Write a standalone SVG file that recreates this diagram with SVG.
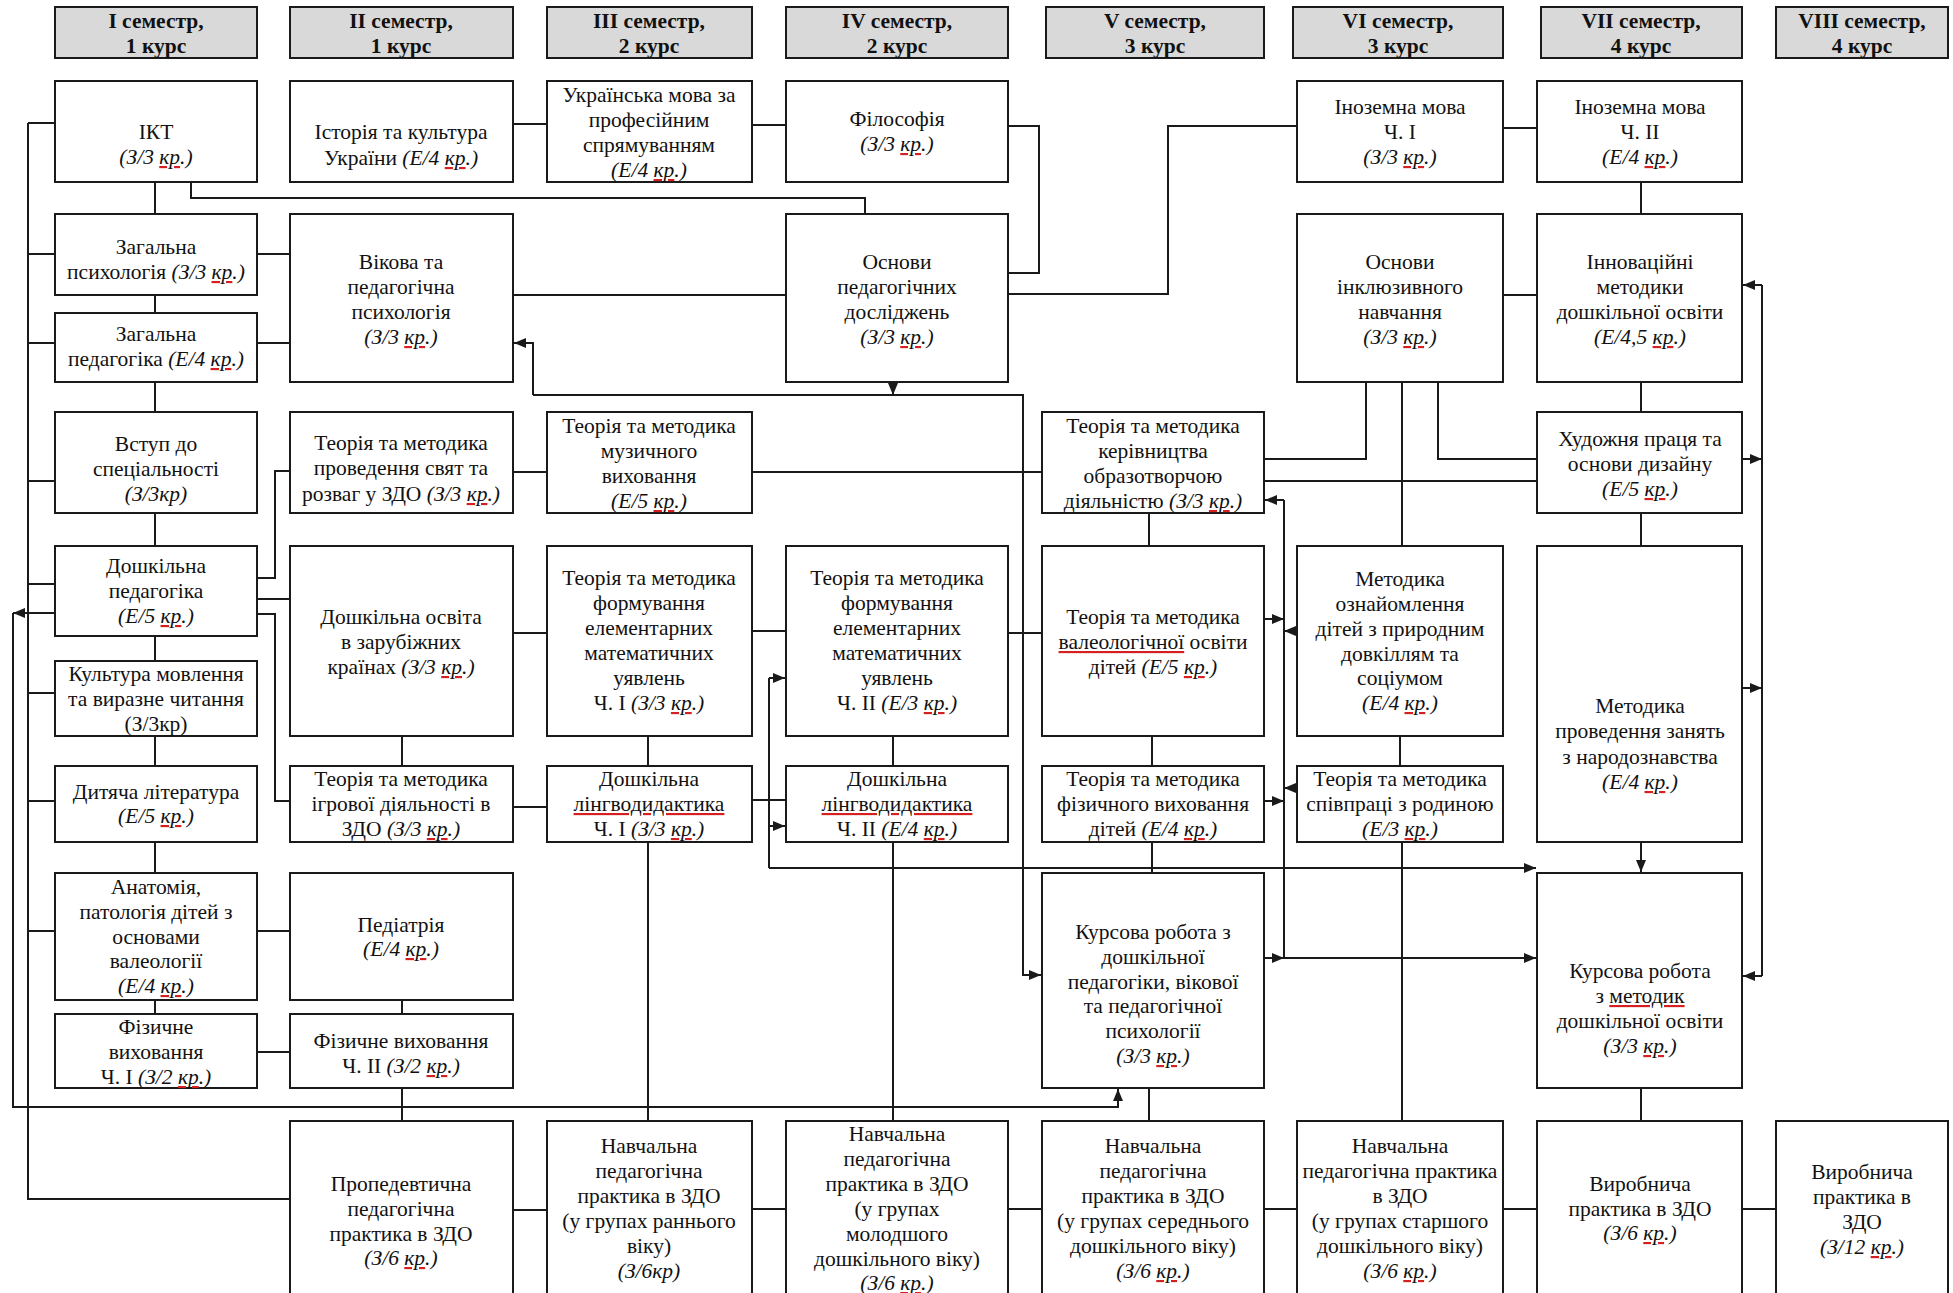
<svg xmlns="http://www.w3.org/2000/svg" width="1953" height="1293" viewBox="0 0 1953 1293">
<style>
.box{fill:#fff;stroke:#1a1a1a;stroke-width:2}
.hdr{fill:#d9d9d9;stroke:#1a1a1a;stroke-width:2}
text{font-family:"Liberation Serif","Times New Roman",serif;font-size:21.5px;fill:#111;text-anchor:middle}
.h{font-weight:bold}
.i{font-style:italic}
.c{fill:none;stroke:#1a1a1a;stroke-width:2}
.a{marker-end:url(#arr)}
.sq{fill:#d42020;text-decoration:underline wavy}
.k{fill:#111}
</style>
<defs>
<marker id="arr" markerUnits="userSpaceOnUse" markerWidth="13" markerHeight="11" refX="12" refY="5" orient="auto"><path d="M0,0 L12,5 L0,10 z" fill="#1a1a1a"/></marker>
</defs>
<rect width="1953" height="1293" fill="#fff"/>

<g id="headers">
<g id="h1"><rect class="hdr" x="55" y="7" width="202" height="51"/><text class="h"><tspan x="156" y="28">I семестр,</tspan><tspan x="156" y="53">1 курс</tspan></text></g>
<g id="h2"><rect class="hdr" x="290" y="7" width="223" height="51"/><text class="h"><tspan x="401" y="28">II семестр,</tspan><tspan x="401" y="53">1 курс</tspan></text></g>
<g id="h3"><rect class="hdr" x="547" y="7" width="205" height="51"/><text class="h"><tspan x="649" y="28">III семестр,</tspan><tspan x="649" y="53">2 курс</tspan></text></g>
<g id="h4"><rect class="hdr" x="786" y="7" width="222" height="51"/><text class="h"><tspan x="897" y="28">IV семестр,</tspan><tspan x="897" y="53">2 курс</tspan></text></g>
<g id="h5"><rect class="hdr" x="1046" y="7" width="218" height="51"/><text class="h"><tspan x="1155" y="28">V семестр,</tspan><tspan x="1155" y="53">3 курс</tspan></text></g>
<g id="h6"><rect class="hdr" x="1293" y="7" width="210" height="51"/><text class="h"><tspan x="1398" y="28">VI семестр,</tspan><tspan x="1398" y="53">3 курс</tspan></text></g>
<g id="h7"><rect class="hdr" x="1541" y="7" width="201" height="51"/><text class="h"><tspan x="1641" y="28">VII семестр,</tspan><tspan x="1641" y="53">4 курс</tspan></text></g>
<g id="h8"><rect class="hdr" x="1776" y="7" width="172" height="51"/><text class="h"><tspan x="1862" y="28">VIII семестр,</tspan><tspan x="1862" y="53">4 курс</tspan></text></g>
</g>

<g id="connectors">
<path class="c" d="M28,123 H55 M28,123 V1199 H290 M28,254 H55 M28,343 H55 M28,481 H55 M28,584 H55 M28,693 H55 M28,801 H55 M28,931 H55"/>
<path class="c" d="M155,182 V214 M155,295 V313 M155,382 V412 M155,513 V546 M155,636 V661 M155,736 V766 M155,842 V873 M155,1000 V1014"/>
<path class="c" d="M191,182 V198 H865 V214"/>
<path class="c" d="M257,254 H290 M257,343 H290 M257,578 H275 V471 H290 M257,599 H290 M257,614 H275 V801 H290 M257,931 H290 M257,1052 H290"/>
<path class="c" d="M402,1000 V1014 M402,736 V766 M402,1088 V1121"/>
<path class="c" d="M513,124 H547 M752,125 H786 M513,295 H786"/>
<path class="c a" d="M533,395 V343 H514"/>
<path class="c a" d="M533,395 H1023 V975 H1041"/>
<path class="c a" d="M893,382 V395"/>
<path class="c" d="M1008,126 H1039 V273 H1008"/>
<path class="c" d="M1008,294 H1168 V126 H1297"/>
<path class="c" d="M1503,128 H1537 M1503,295 H1537 M1641,182 V214 M1641,382 V412 M1641,513 V546 M1641,1088 V1121"/>
<path class="c" d="M1762,285 V976"/>
<path class="c a" d="M1762,285 H1743"/>
<path class="c a" d="M1762,976 H1743"/>
<path class="c a" d="M1742,459 H1762"/>
<path class="c a" d="M1742,688 H1762"/>
<path class="c a" d="M1641,842 V872"/>
<path class="c" d="M1366,382 V459 H1264 M1402,382 V546 M1438,382 V459 H1537 M1264,481 H1537"/>
<path class="c" d="M513,472 H547 M752,472 H1042 M1149,513 V546"/>
<path class="c" d="M1284,500 V958"/>
<path class="c a" d="M1284,500 H1265"/>
<path class="c a" d="M1264,619 H1284"/>
<path class="c a" d="M1297,631 H1284"/>
<path class="c a" d="M1297,788 H1284"/>
<path class="c a" d="M1264,801 H1284"/>
<path class="c a" d="M1264,958 H1284"/>
<path class="c a" d="M1284,958 H1536"/>
<path class="c a" d="M769,868 H1536"/>
<path class="c" d="M769,678 V868"/>
<path class="c a" d="M769,678 H785"/>
<path class="c a" d="M769,826 H785"/>
<path class="c" d="M752,631 H786 M513,633 H547 M648,736 V766 M893,736 V766 M513,807 H547 M752,800 H786 M1008,633 H1042"/>
<path class="c" d="M1152,736 V766 M1400,736 V766 M1152,842 V873 M1402,842 V1121 M1149,1088 V1121"/>
<path class="c" d="M648,842 V1121 M893,842 V1121"/>
<path class="c" d="M513,1210 H547 M752,1209 H786 M1008,1209 H1042 M1264,1209 H1297 M1503,1209 H1537 M1742,1209 H1776"/>
<path class="c a" d="M55,613 H13"/>
<path class="c a" d="M13,613 V1107 H1118 V1089"/>
</g>

<g id="n-ikt"><rect class="box" x="55" y="81" width="202" height="101"/><text><tspan x="156" y="139">ІКТ</tspan><tspan x="156" y="164" class="i">(З/3 <tspan class="sq"><tspan class="k">кр</tspan></tspan>.)</tspan></text></g>
<g id="n-zag-psy"><rect class="box" x="55" y="214" width="202" height="81"/><text><tspan x="156" y="254">Загальна</tspan><tspan x="156" y="279">психологія <tspan class="i">(З/3 <tspan class="sq"><tspan class="k">кр</tspan></tspan>.)</tspan></tspan></text></g>
<g id="n-zag-ped"><rect class="box" x="55" y="313" width="202" height="69"/><text><tspan x="156" y="341">Загальна</tspan><tspan x="156" y="366">педагогіка <tspan class="i">(Е/4 <tspan class="sq"><tspan class="k">кр</tspan></tspan>.)</tspan></tspan></text></g>
<g id="n-vstup"><rect class="box" x="55" y="412" width="202" height="101"/><text><tspan x="156" y="451">Вступ до</tspan><tspan x="156" y="476">спеціальності</tspan><tspan x="156" y="501" class="i">(З/3кр)</tspan></text></g>
<g id="n-dosh-ped"><rect class="box" x="55" y="546" width="202" height="90"/><text><tspan x="156" y="573">Дошкільна</tspan><tspan x="156" y="598">педагогіка</tspan><tspan x="156" y="623" class="i">(Е/5 <tspan class="sq"><tspan class="k">кр</tspan></tspan>.)</tspan></text></g>
<g id="n-kultura"><rect class="box" x="55" y="661" width="202" height="75"/><text><tspan x="156" y="681">Культура мовлення</tspan><tspan x="156" y="706">та виразне читання</tspan><tspan x="156" y="731">(З/3кр)</tspan></text></g>
<g id="n-dytyacha"><rect class="box" x="55" y="766" width="202" height="76"/><text><tspan x="156" y="799">Дитяча література</tspan><tspan x="156" y="823" class="i">(Е/5 <tspan class="sq"><tspan class="k">кр</tspan></tspan>.)</tspan></text></g>
<g id="n-anatomiya"><rect class="box" x="55" y="873" width="202" height="127"/><text><tspan x="156" y="894">Анатомія,</tspan><tspan x="156" y="919">патологія дітей з</tspan><tspan x="156" y="944">основами</tspan><tspan x="156" y="968">валеології</tspan><tspan x="156" y="993" class="i">(Е/4 <tspan class="sq"><tspan class="k">кр</tspan></tspan>.)</tspan></text></g>
<g id="n-fiz1"><rect class="box" x="55" y="1014" width="202" height="74"/><text><tspan x="156" y="1034">Фізичне</tspan><tspan x="156" y="1059">виховання</tspan><tspan x="156" y="1084">Ч. I <tspan class="i">(З/2 <tspan class="sq"><tspan class="k">кр</tspan></tspan>.)</tspan></tspan></text></g>

<g id="n-istoriya"><rect class="box" x="290" y="81" width="223" height="101"/><text><tspan x="401" y="139">Історія та культура</tspan><tspan x="401" y="165">України <tspan class="i">(Е/4 <tspan class="sq"><tspan class="k">кр</tspan></tspan>.)</tspan></tspan></text></g>
<g id="n-vikova"><rect class="box" x="290" y="214" width="223" height="168"/><text><tspan x="401" y="269">Вікова та</tspan><tspan x="401" y="294">педагогічна</tspan><tspan x="401" y="319">психологія</tspan><tspan x="401" y="344" class="i">(З/3 <tspan class="sq"><tspan class="k">кр</tspan></tspan>.)</tspan></text></g>
<g id="n-svyata"><rect class="box" x="290" y="412" width="223" height="101"/><text><tspan x="401" y="450">Теорія та методика</tspan><tspan x="401" y="475">проведення свят та</tspan><tspan x="401" y="501">розваг у ЗДО <tspan class="i">(З/3 <tspan class="sq"><tspan class="k">кр</tspan></tspan>.)</tspan></tspan></text></g>
<g id="n-zarub"><rect class="box" x="290" y="546" width="223" height="190"/><text><tspan x="401" y="624">Дошкільна освіта</tspan><tspan x="401" y="649">в зарубіжних</tspan><tspan x="401" y="674">країнах <tspan class="i">(З/3 <tspan class="sq"><tspan class="k">кр</tspan></tspan>.)</tspan></tspan></text></g>
<g id="n-igrova"><rect class="box" x="290" y="766" width="223" height="76"/><text><tspan x="401" y="786">Теорія та методика</tspan><tspan x="401" y="811">ігрової діяльності в</tspan><tspan x="401" y="836">ЗДО <tspan class="i">(З/3 <tspan class="sq"><tspan class="k">кр</tspan></tspan>.)</tspan></tspan></text></g>
<g id="n-pediatr"><rect class="box" x="290" y="873" width="223" height="127"/><text><tspan x="401" y="932">Педіатрія</tspan><tspan x="401" y="956" class="i">(Е/4 <tspan class="sq"><tspan class="k">кр</tspan></tspan>.)</tspan></text></g>
<g id="n-fiz2"><rect class="box" x="290" y="1014" width="223" height="74"/><text><tspan x="401" y="1048">Фізичне виховання</tspan><tspan x="401" y="1073">Ч. II <tspan class="i">(З/2 <tspan class="sq"><tspan class="k">кр</tspan></tspan>.)</tspan></tspan></text></g>
<g id="n-proped"><rect class="box" x="290" y="1121" width="223" height="180"/><text><tspan x="401" y="1191">Пропедевтична</tspan><tspan x="401" y="1216">педагогічна</tspan><tspan x="401" y="1241">практика в ЗДО</tspan><tspan x="401" y="1265" class="i">(З/6 <tspan class="sq"><tspan class="k">кр</tspan></tspan>.)</tspan></text></g>

<g id="n-ukr"><rect class="box" x="547" y="81" width="205" height="101"/><text><tspan x="649" y="102">Українська мова за</tspan><tspan x="649" y="127">професійним</tspan><tspan x="649" y="152">спрямуванням</tspan><tspan x="649" y="177" class="i">(Е/4 <tspan class="sq"><tspan class="k">кр</tspan></tspan>.)</tspan></text></g>
<g id="n-muz"><rect class="box" x="547" y="412" width="205" height="101"/><text><tspan x="649" y="433">Теорія та методика</tspan><tspan x="649" y="458">музичного</tspan><tspan x="649" y="483">виховання</tspan><tspan x="649" y="508" class="i">(Е/5 <tspan class="sq"><tspan class="k">кр</tspan></tspan>.)</tspan></text></g>
<g id="n-emu1"><rect class="box" x="547" y="546" width="205" height="190"/><text><tspan x="649" y="585">Теорія та методика</tspan><tspan x="649" y="610">формування</tspan><tspan x="649" y="635">елементарних</tspan><tspan x="649" y="660">математичних</tspan><tspan x="649" y="685">уявлень</tspan><tspan x="649" y="710">Ч. I <tspan class="i">(З/3 <tspan class="sq"><tspan class="k">кр</tspan></tspan>.)</tspan></tspan></text></g>
<g id="n-ling1"><rect class="box" x="547" y="766" width="205" height="76"/><text><tspan x="649" y="786">Дошкільна</tspan><tspan x="649" y="811"><tspan class="sq"><tspan class="k">лінгводидактика</tspan></tspan></tspan><tspan x="649" y="836">Ч. I <tspan class="i">(З/3 <tspan class="sq"><tspan class="k">кр</tspan></tspan>.)</tspan></tspan></text></g>
<g id="n-nav-rann"><rect class="box" x="547" y="1121" width="205" height="180"/><text><tspan x="649" y="1153">Навчальна</tspan><tspan x="649" y="1178">педагогічна</tspan><tspan x="649" y="1203">практика в ЗДО</tspan><tspan x="649" y="1228">(у групах раннього</tspan><tspan x="649" y="1253">віку)</tspan><tspan x="649" y="1278" class="i">(З/6кр)</tspan></text></g>

<g id="n-filos"><rect class="box" x="786" y="81" width="222" height="101"/><text><tspan x="897" y="126">Філософія</tspan><tspan x="897" y="151" class="i">(З/3 <tspan class="sq"><tspan class="k">кр</tspan></tspan>.)</tspan></text></g>
<g id="n-osn-ped"><rect class="box" x="786" y="214" width="222" height="168"/><text><tspan x="897" y="269">Основи</tspan><tspan x="897" y="294">педагогічних</tspan><tspan x="897" y="319">досліджень</tspan><tspan x="897" y="344" class="i">(З/3 <tspan class="sq"><tspan class="k">кр</tspan></tspan>.)</tspan></text></g>
<g id="n-emu2"><rect class="box" x="786" y="546" width="222" height="190"/><text><tspan x="897" y="585">Теорія та методика</tspan><tspan x="897" y="610">формування</tspan><tspan x="897" y="635">елементарних</tspan><tspan x="897" y="660">математичних</tspan><tspan x="897" y="685">уявлень</tspan><tspan x="897" y="710">Ч. II <tspan class="i">(Е/3 <tspan class="sq"><tspan class="k">кр</tspan></tspan>.)</tspan></tspan></text></g>
<g id="n-ling2"><rect class="box" x="786" y="766" width="222" height="76"/><text><tspan x="897" y="786">Дошкільна</tspan><tspan x="897" y="811"><tspan class="sq"><tspan class="k">лінгводидактика</tspan></tspan></tspan><tspan x="897" y="836">Ч. II <tspan class="i">(Е/4 <tspan class="sq"><tspan class="k">кр</tspan></tspan>.)</tspan></tspan></text></g>
<g id="n-nav-mol"><rect class="box" x="786" y="1121" width="222" height="180"/><text><tspan x="897" y="1141">Навчальна</tspan><tspan x="897" y="1166">педагогічна</tspan><tspan x="897" y="1191">практика в ЗДО</tspan><tspan x="897" y="1216">(у групах</tspan><tspan x="897" y="1241">молодшого</tspan><tspan x="897" y="1266">дошкільного віку)</tspan><tspan x="897" y="1290" class="i">(З/6 <tspan class="sq"><tspan class="k">кр</tspan></tspan>.)</tspan></text></g>

<g id="n-kerivn"><rect class="box" x="1042" y="412" width="222" height="101"/><text><tspan x="1153" y="433">Теорія та методика</tspan><tspan x="1153" y="458">керівництва</tspan><tspan x="1153" y="483">образотворчою</tspan><tspan x="1153" y="508">діяльністю <tspan class="i">(З/3 <tspan class="sq"><tspan class="k">кр</tspan></tspan>.)</tspan></tspan></text></g>
<g id="n-valeo"><rect class="box" x="1042" y="546" width="222" height="190"/><text><tspan x="1153" y="624">Теорія та методика</tspan><tspan x="1153" y="649"><tspan class="sq"><tspan class="k">валеологічної</tspan></tspan> освіти</tspan><tspan x="1153" y="674">дітей <tspan class="i">(Е/5 <tspan class="sq"><tspan class="k">кр</tspan></tspan>.)</tspan></tspan></text></g>
<g id="n-fiz-dit"><rect class="box" x="1042" y="766" width="222" height="76"/><text><tspan x="1153" y="786">Теорія та методика</tspan><tspan x="1153" y="811">фізичного виховання</tspan><tspan x="1153" y="836">дітей <tspan class="i">(Е/4 <tspan class="sq"><tspan class="k">кр</tspan></tspan>.)</tspan></tspan></text></g>
<g id="n-kurs-dosh"><rect class="box" x="1042" y="873" width="222" height="215"/><text><tspan x="1153" y="939">Курсова робота з</tspan><tspan x="1153" y="964">дошкільної</tspan><tspan x="1153" y="989">педагогіки, вікової</tspan><tspan x="1153" y="1013">та педагогічної</tspan><tspan x="1153" y="1038">психології</tspan><tspan x="1153" y="1063" class="i">(З/3 <tspan class="sq"><tspan class="k">кр</tspan></tspan>.)</tspan></text></g>
<g id="n-nav-ser"><rect class="box" x="1042" y="1121" width="222" height="180"/><text><tspan x="1153" y="1153">Навчальна</tspan><tspan x="1153" y="1178">педагогічна</tspan><tspan x="1153" y="1203">практика в ЗДО</tspan><tspan x="1153" y="1228">(у групах середнього</tspan><tspan x="1153" y="1253">дошкільного віку)</tspan><tspan x="1153" y="1278" class="i">(З/6 <tspan class="sq"><tspan class="k">кр</tspan></tspan>.)</tspan></text></g>

<g id="n-inoz1"><rect class="box" x="1297" y="81" width="206" height="101"/><text><tspan x="1400" y="114">Іноземна мова</tspan><tspan x="1400" y="139">Ч. I</tspan><tspan x="1400" y="164" class="i">(З/3 <tspan class="sq"><tspan class="k">кр</tspan></tspan>.)</tspan></text></g>
<g id="n-inkl"><rect class="box" x="1297" y="214" width="206" height="168"/><text><tspan x="1400" y="269">Основи</tspan><tspan x="1400" y="294">інклюзивного</tspan><tspan x="1400" y="319">навчання</tspan><tspan x="1400" y="344" class="i">(З/3 <tspan class="sq"><tspan class="k">кр</tspan></tspan>.)</tspan></text></g>
<g id="n-oznaiom"><rect class="box" x="1297" y="546" width="206" height="190"/><text><tspan x="1400" y="586">Методика</tspan><tspan x="1400" y="611">ознайомлення</tspan><tspan x="1400" y="636">дітей з природним</tspan><tspan x="1400" y="661">довкіллям та</tspan><tspan x="1400" y="685">соціумом</tspan><tspan x="1400" y="710" class="i">(Е/4 <tspan class="sq"><tspan class="k">кр</tspan></tspan>.)</tspan></text></g>
<g id="n-rodyna"><rect class="box" x="1297" y="766" width="206" height="76"/><text><tspan x="1400" y="786">Теорія та методика</tspan><tspan x="1400" y="811">співпраці з родиною</tspan><tspan x="1400" y="836" class="i">(Е/3 <tspan class="sq"><tspan class="k">кр</tspan></tspan>.)</tspan></text></g>
<g id="n-nav-star"><rect class="box" x="1297" y="1121" width="206" height="180"/><text><tspan x="1400" y="1153">Навчальна</tspan><tspan x="1400" y="1178">педагогічна практика</tspan><tspan x="1400" y="1203">в ЗДО</tspan><tspan x="1400" y="1228">(у групах старшого</tspan><tspan x="1400" y="1253">дошкільного віку)</tspan><tspan x="1400" y="1278" class="i">(З/6 <tspan class="sq"><tspan class="k">кр</tspan></tspan>.)</tspan></text></g>

<g id="n-inoz2"><rect class="box" x="1537" y="81" width="205" height="101"/><text><tspan x="1640" y="114">Іноземна мова</tspan><tspan x="1640" y="139">Ч. II</tspan><tspan x="1640" y="164" class="i">(Е/4 <tspan class="sq"><tspan class="k">кр</tspan></tspan>.)</tspan></text></g>
<g id="n-innov"><rect class="box" x="1537" y="214" width="205" height="168"/><text><tspan x="1640" y="269">Інноваційні</tspan><tspan x="1640" y="294">методики</tspan><tspan x="1640" y="319">дошкільної освіти</tspan><tspan x="1640" y="344" class="i">(Е/4,5 <tspan class="sq"><tspan class="k">кр</tspan></tspan>.)</tspan></text></g>
<g id="n-khud"><rect class="box" x="1537" y="412" width="205" height="101"/><text><tspan x="1640" y="446">Художня праця та</tspan><tspan x="1640" y="471">основи дизайну</tspan><tspan x="1640" y="496" class="i">(Е/5 <tspan class="sq"><tspan class="k">кр</tspan></tspan>.)</tspan></text></g>
<g id="n-narod"><rect class="box" x="1537" y="546" width="205" height="296"/><text><tspan x="1640" y="713">Методика</tspan><tspan x="1640" y="738">проведення занять</tspan><tspan x="1640" y="764">з народознавства</tspan><tspan x="1640" y="789" class="i">(Е/4 <tspan class="sq"><tspan class="k">кр</tspan></tspan>.)</tspan></text></g>
<g id="n-kurs-met"><rect class="box" x="1537" y="873" width="205" height="215"/><text><tspan x="1640" y="978">Курсова робота</tspan><tspan x="1640" y="1003">з <tspan class="sq"><tspan class="k">методик</tspan></tspan></tspan><tspan x="1640" y="1028">дошкільної освіти</tspan><tspan x="1640" y="1053" class="i">(З/3 <tspan class="sq"><tspan class="k">кр</tspan></tspan>.)</tspan></text></g>
<g id="n-vyrob7"><rect class="box" x="1537" y="1121" width="205" height="180"/><text><tspan x="1640" y="1191">Виробнича</tspan><tspan x="1640" y="1216">практика в ЗДО</tspan><tspan x="1640" y="1240" class="i">(З/6 <tspan class="sq"><tspan class="k">кр</tspan></tspan>.)</tspan></text></g>

<g id="n-vyrob8"><rect class="box" x="1776" y="1121" width="172" height="180"/><text><tspan x="1862" y="1179">Виробнича</tspan><tspan x="1862" y="1204">практика в</tspan><tspan x="1862" y="1229">ЗДО</tspan><tspan x="1862" y="1254" class="i">(З/12 <tspan class="sq"><tspan class="k">кр</tspan></tspan>.)</tspan></text></g>
</svg>
